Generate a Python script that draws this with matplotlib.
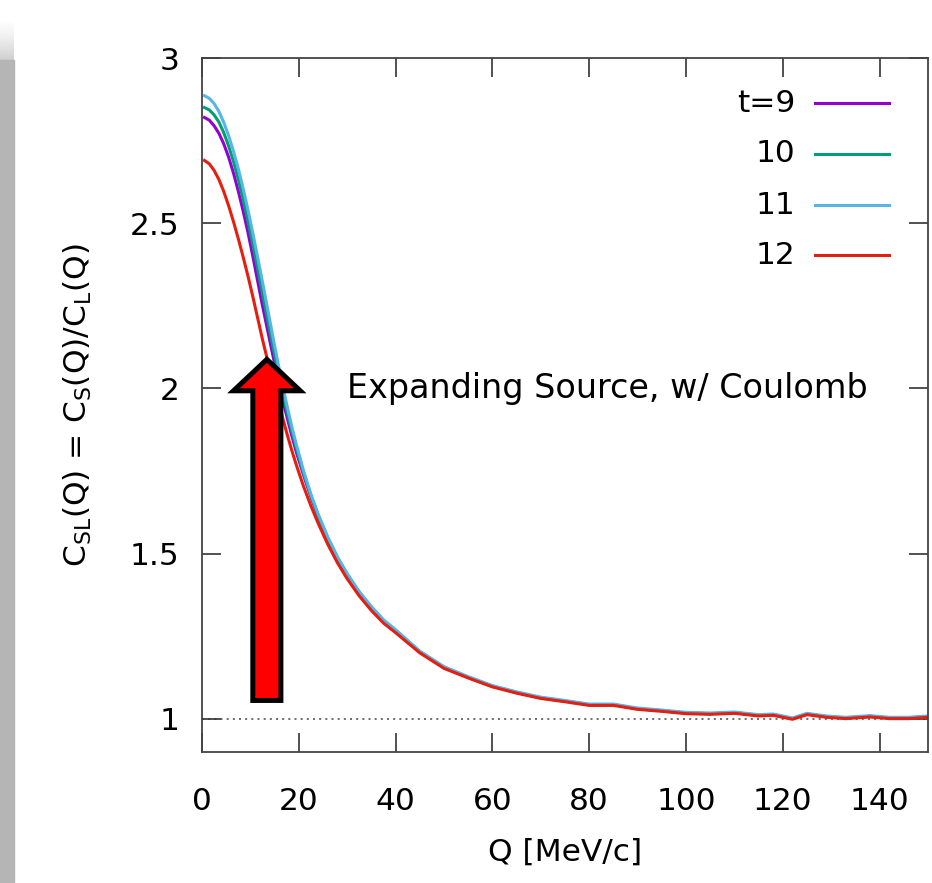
# Short/long correlation ratio for an expanding source with Coulomb
import numpy as np
import matplotlib.pyplot as plt
from matplotlib.patches import FancyArrow, Rectangle

# Q grid [MeV/c]: dense through the peak, coarser in the tail
q_head = [0.5, 1.5, 2.5, 3.5, 4.5, 5.5, 6.5, 7.5, 8.5, 9.5, 10.5, 11.5, 12.5,
          13.5, 14.5, 15.5, 16.5, 17.5, 18.5, 19.5, 21, 22.5, 24, 26, 28, 30,
          32.5, 35, 37.5, 40, 45, 50]
q_tail = [55, 60, 65, 70, 75, 80, 85, 90, 95, 100, 105, 110, 115, 118, 122,
          125, 129, 133, 138, 142, 146, 150]
q = q_head + q_tail

# shared tail values beyond Q = 55
tail = [1.126, 1.099, 1.080, 1.064, 1.054, 1.043, 1.043, 1.031, 1.025, 1.018,
        1.016, 1.019, 1.011, 1.013, 1.001, 1.015, 1.007, 1.003, 1.008, 1.003,
        1.003, 1.007]

c_t9 = [2.820, 2.812, 2.795, 2.772, 2.740, 2.700, 2.652, 2.597, 2.537, 2.472,
        2.400, 2.325, 2.250, 2.180, 2.110, 2.042, 1.977, 1.917, 1.860, 1.807,
        1.737, 1.672, 1.613, 1.544, 1.485, 1.435, 1.381, 1.336, 1.297, 1.266,
        1.203, 1.156] + tail
c_t10 = [2.850, 2.843, 2.828, 2.806, 2.774, 2.734, 2.687, 2.633, 2.572, 2.506,
         2.436, 2.362, 2.287, 2.212, 2.138, 2.066, 1.998, 1.934, 1.874, 1.818,
         1.743, 1.676, 1.616, 1.547, 1.488, 1.437, 1.383, 1.338, 1.298, 1.268,
         1.204, 1.157] + tail
c_t11 = [2.886, 2.878, 2.862, 2.838, 2.805, 2.765, 2.718, 2.665, 2.605, 2.540,
         2.470, 2.397, 2.322, 2.245, 2.168, 2.092, 2.020, 1.952, 1.888, 1.830,
         1.750, 1.680, 1.620, 1.550, 1.490, 1.440, 1.385, 1.340, 1.300, 1.270,
         1.205, 1.158] + [v + 0.002 for v in tail]
c_t12 = [2.690, 2.680, 2.660, 2.632, 2.596, 2.553, 2.505, 2.453, 2.398, 2.340,
         2.278, 2.213, 2.148, 2.088, 2.030, 1.975, 1.920, 1.866, 1.815, 1.768,
         1.703, 1.645, 1.592, 1.528, 1.472, 1.424, 1.372, 1.328, 1.290, 1.261,
         1.200, 1.153] + [v - 0.002 for v in tail]

labels = ['t=9', '10', '11', '12']
colors = ['#9400d3', '#009e73', '#56b4e9', '#e51e10']
series = [c_t9, c_t10, c_t11, c_t12]

# highlight arrow (Q, C) base and tip
arrow_q = 13.4
arrow_base = 1.056
arrow_tip = 2.088

plt.rcParams['font.family'] = 'DejaVu Sans'
fig = plt.figure(figsize=(9.32, 8.83), dpi=100)
ax = fig.add_axes([202 / 932, 1 - 752 / 883, 726 / 932, 694 / 883])

ax.axhline(1.0, color='#555555', lw=1.2, ls=(0, (1.2, 2.5)), zorder=1)
for y, c in zip(series, colors):
    ax.plot(q, y, color=c, lw=2.2, zorder=2, solid_joinstyle='round')

ax.add_patch(FancyArrow(arrow_q, arrow_base, 0, arrow_tip - arrow_base,
                        width=5.8, head_width=13.8, head_length=0.095,
                        length_includes_head=True, facecolor='red',
                        edgecolor='black', lw=3.6, joinstyle='miter',
                        zorder=5))

ax.text(30, 2.0, 'Expanding Source, w/ Coulomb', fontsize=24, va='center')

# key in the top right corner, labels right aligned
rows = [0.935, 0.862, 0.788, 0.716]
for lab, c, yr in zip(labels, colors, rows):
    ax.text(0.817, yr, lab, transform=ax.transAxes, ha='right',
            va='center', fontsize=22.5)
    ax.plot([0.844, 0.946], [yr, yr], transform=ax.transAxes, color=c,
            lw=2.2)

ax.set_xlim(0, 150)
ax.set_ylim(0.9, 3.0)
ax.set_xticks(range(0, 150, 20))
ax.set_yticks([1, 1.5, 2, 2.5, 3])
ax.set_yticklabels(['1', '1.5', '2', '2.5', '3'])
ax.tick_params(direction='in', length=14, width=1.2, color='#333333',
               top=True, right=True, labelsize=22.5)
ax.tick_params(axis='x', pad=25)
ax.tick_params(axis='y', pad=16)
for s in ax.spines.values():
    s.set_color('#444444')
    s.set_linewidth(1.3)

ax.set_xlabel('Q [MeV/c]', fontsize=22.5, labelpad=16)
ax.set_ylabel('C$_{\\mathrm{SL}}$(Q) = C$_{\\mathrm{S}}$(Q)/C$_{\\mathrm{L}}$(Q)',
              fontsize=22.5, labelpad=26)

# gray band down the left edge, fading in at the top
fig.patches.append(Rectangle((0, 0), 14 / 932, 1 - 60 / 883,
                             transform=fig.transFigure, color='#b5b5b5',
                             zorder=0))
gax = fig.add_axes([0, 1 - 60 / 883, 14 / 932, 40 / 883])
grad = np.linspace(0, 1, 32).reshape(-1, 1)
gax.imshow(grad, aspect='auto', cmap='Greys', vmin=0, vmax=3.4)
gax.axis('off')

fig.savefig('out.png', dpi=100)
